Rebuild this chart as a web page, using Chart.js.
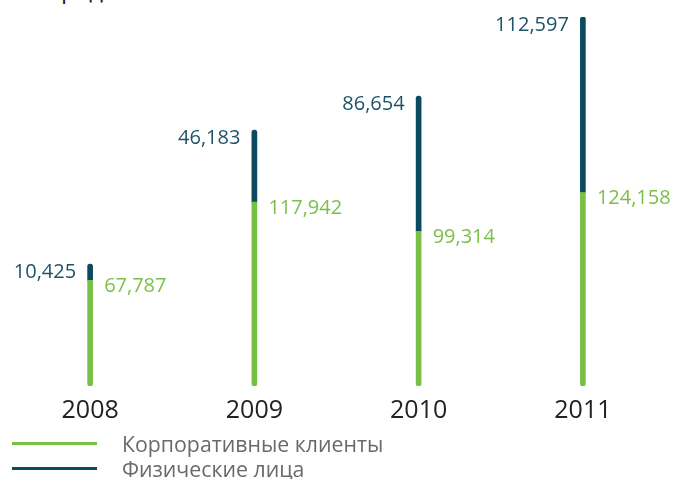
<!DOCTYPE html>
<html><head><meta charset="utf-8">
<script src="https://cdn.jsdelivr.net/npm/chart.js@4.4.0/dist/chart.umd.min.js"></script>
<style>
html,body{margin:0;padding:0;background:#fff;}
#wrap{position:relative;width:673px;height:479px;overflow:hidden;font-family:"Open Sans",sans-serif;}
#title{position:absolute;left:46px;top:-28px;font-size:24px;color:#222;white-space:nowrap;}
canvas{position:absolute;left:0;top:0;}
.leg{position:absolute;left:12px;height:24px;display:flex;align-items:center;font-size:21.3px;color:#6a6a6a;}
.leg span.ln{display:inline-block;width:85px;height:3px;margin-right:25px;}
</style></head>
<body><div id="wrap">
<div id="title">Средства</div>
<canvas id="c" width="673" height="479"></canvas>
<div class="leg" id="leg0" style="top:431px"></div>
<div class="leg" id="leg1" style="top:456px"></div>
</div>
<script>
const years = ["2008", "2009", "2010", "2011"];
const corporate = [67787, 117942, 99314, 124158];
const individuals = [10425, 46183, 86654, 112597];
const seriesNames = ["Корпоративные клиенты", "Физические лица"];
const colors = ["#78bf45", "#0c4b5f"];
const labelColors = ["#7cc04a", "#1d5469"];

const fmt = v => v.toLocaleString("en-US");
const maxTotal = Math.max(...corporate.map((v, i) => v + individuals[i]));

[0, 1].forEach(i => {
  const el = document.getElementById("leg" + i);
  const ln = document.createElement("span");
  ln.className = "ln"; ln.style.background = colors[i];
  el.appendChild(ln);
  el.appendChild(document.createTextNode(seriesNames[i]));
});

const labelPlugin = {
  id: "valueLabels",
  afterDatasetsDraw(chart) {
    const ctx = chart.ctx;
    ctx.save();
    ctx.font = '20px "Open Sans"';
    ctx.textBaseline = "middle";
    const m0 = chart.getDatasetMeta(0).data;
    const m1 = chart.getDatasetMeta(1).data;
    m0.forEach((bar, i) => {
      ctx.fillStyle = labelColors[0];
      ctx.textAlign = "left";
      ctx.fillText(fmt(corporate[i]), bar.x + 14, bar.y + 6);
    });
    m1.forEach((bar, i) => {
      ctx.fillStyle = labelColors[1];
      ctx.textAlign = "right";
      ctx.fillText(fmt(individuals[i]), bar.x - 14, bar.y + 8);
    });
    ctx.restore();
  }
};

new Chart(document.getElementById("c"), {
  type: "bar",
  data: {
    labels: years,
    datasets: [
      { label: seriesNames[0], data: corporate, backgroundColor: colors[0], barThickness: 5,
        borderSkipped: false, borderRadius: {bottomLeft: 3, bottomRight: 3, topLeft: 0, topRight: 0} },
      { label: seriesNames[1], data: individuals, backgroundColor: colors[1], barThickness: 5,
        borderSkipped: false, borderRadius: {topLeft: 3, topRight: 3, bottomLeft: 0, bottomRight: 0} }
    ]
  },
  options: {
    responsive: false,
    animation: false,
    layout: { padding: { top: 17, bottom: 43, left: 8, right: 8 } },
    plugins: { legend: { display: false }, tooltip: { enabled: false } },
    scales: {
      x: { stacked: true, grid: { display: false, drawTicks: false }, border: { display: false },
           ticks: { color: "#222", font: { family: "Open Sans", size: 25 }, padding: 10 } },
      y: { stacked: true, display: false, min: 0, max: maxTotal }
    }
  },
  plugins: [labelPlugin]
});
</script>
</body></html>
